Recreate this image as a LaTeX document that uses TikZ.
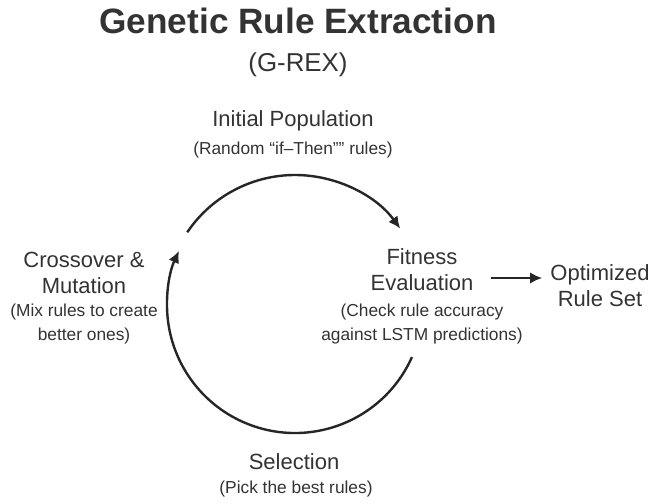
\documentclass[tikz,border=0pt]{standalone}
\usepackage{fontspec}
\setmainfont{Liberation Sans}
\usepackage{xcolor}
\usepackage{tikz}
\usetikzlibrary{arrows.meta,positioning,calc}
\definecolor{textgray}{RGB}{51,51,51}
\definecolor{loopgray}{RGB}{38,38,38}
\tikzset{
	>=Latex,
	steplbl/.style={
		align=center,
		text=textgray,
		font=\fontsize{16.5}{19.5}\selectfont,
		inner sep=0pt
	},
	notelbl/.style={
		align=center,
		text=textgray,
		font=\fontsize{13}{18}\selectfont,
		inner sep=0pt
	},
	cyc/.style={
		-{Latex[length=9pt,width=8.5pt]},
		line width=1.8pt,
		draw=loopgray
	}
}

\begin{document}
\begin{tikzpicture}[x=0.75pt,y=0.75pt]
	\useasboundingbox (0,0) rectangle (652,-503);
	
	% Title
	\node[text=textgray,font=\fontsize{26.4}{30}\selectfont\bfseries,inner sep=0pt] (title) at (298,-20.5) {Genetic Rule Extraction};
	\node[text=textgray,font=\fontsize{19.4}{23}\selectfont,inner sep=0pt] (subtitle) at (298,-65) {(G-REX)};
	
	% Steps of the loop
	\node[steplbl] (init) at (293,-121) {Initial Population};
	\node[notelbl] (initnote) at (293,-150) {(Random “if–Then”" rules)};
	
	\node[steplbl] (fit) at (422,-270) {Fitness\\Evaluation};
	\node[notelbl] (fitnote) at (422,-324) {(Check rule accuracy\\against LSTM predictions)};
	
	\node[steplbl] (opt) at (600,-286) {Optimized\\Rule Set};
	
	\node[steplbl] (sel) at (294,-462) {Selection};
	\node[notelbl] (selnote) at (296,-489) {(Pick the best rules)};
	
	\node[steplbl] (cross) at (84,-273) {Crossover \&\\Mutation};
	\node[notelbl] (crossnote) at (84,-324) {(Mix rules to create\\better ones)};
	
	% Loop arcs
	\coordinate (ctr) at (295,-305);
	\draw[cyc] ($(ctr)+(146:130)$) arc[start angle=146,end angle=36,radius=130];
	\draw[cyc] ($(ctr)+(-24:128)$) arc[start angle=-24,end angle=-205,radius=128];
	
	% Output
	\draw[cyc] ($(fit.east)+(17,-8)$) -- ($(opt.west)+(-8,8)$);
	
\end{tikzpicture}
\end{document}
